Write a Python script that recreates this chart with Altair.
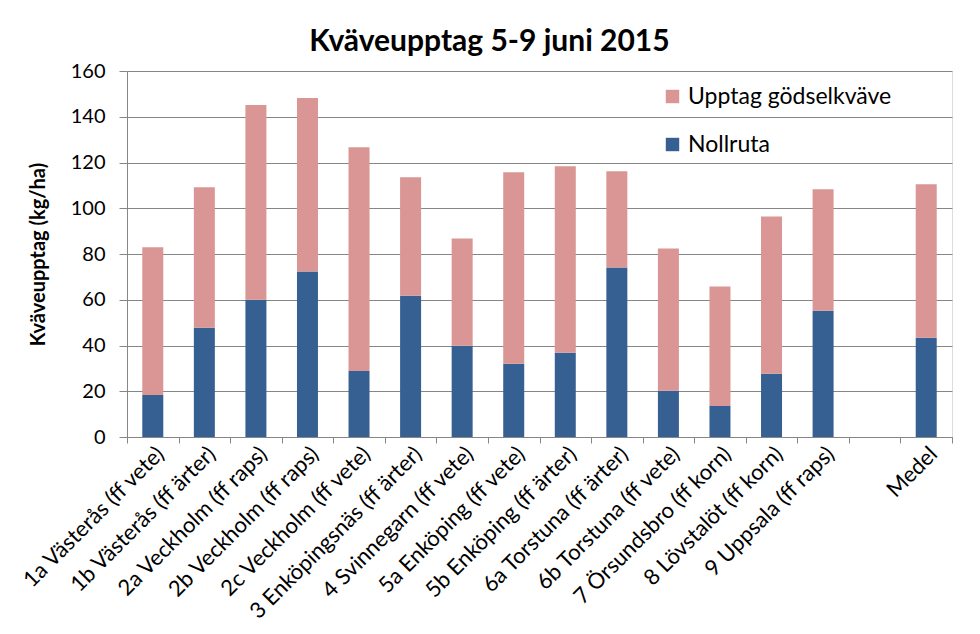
import altair as alt
import pandas as pd

categories = [
    "1a Västerås (ff vete)", "1b Västerås (ff ärter)", "2a Veckholm (ff raps)",
    "2b Veckholm (ff raps)", "2c Veckholm (ff vete)", "3 Enköpingsnäs (ff ärter)",
    "4 Svinnegarn (ff vete)", "5a Enköping (ff vete)", "5b Enköping (ff ärter)",
    "6a Torstuna (ff ärter)", "6b Torstuna (ff vete)", "7 Örsundsbro (ff korn)",
    "8 Lövstalöt (ff korn)", "9 Uppsala (ff raps)", "Medel",
]
axis_order = categories[:14] + [" "] + ["Medel"]
nollruta = [18.4, 47.8, 60.0, 72.3, 28.9, 61.8, 39.9, 32.0, 36.8, 74.1, 20.2, 13.6, 27.6, 55.2, 43.4]
upptag = [64.5, 61.4, 85.1, 75.9, 97.8, 51.7, 46.9, 83.7, 81.6, 42.1, 62.2, 52.2, 68.8, 53.1, 67.1]
series = ["Upptag gödselkväve", "Nollruta"]
colors = ["#D99694", "#376092"]

rows = []
for c, n, u in zip(categories, nollruta, upptag):
    rows.append({"cat": c, "serie": "Nollruta", "val": n, "ord": 0})
    rows.append({"cat": c, "serie": "Upptag gödselkväve", "val": u, "ord": 1})
df = pd.DataFrame(rows)

font = "Lato"
grey = "#868686"

chart = alt.Chart(df).mark_bar(size=21).encode(
    x=alt.X("cat:N", sort=axis_order,
            scale=alt.Scale(domain=axis_order, paddingInner=0, paddingOuter=0),
            axis=alt.Axis(title=None, labelAngle=-45, labelFontSize=22, labelFont=font,
                          labelColor="black", tickBand="extent", tickSize=6,
                          tickColor=grey, domainColor=grey, labelPadding=0,
                          labelLimit=400, grid=False)),
    y=alt.Y("val:Q", stack="zero",
            scale=alt.Scale(domain=[0, 160], nice=False),
            axis=alt.Axis(title="Kväveupptag (kg/ha)", titleFont=font, titleFontSize=20,
                          titleFontWeight="bold", titleColor="black", titlePadding=22,
                          values=list(range(0, 161, 20)), labelFontSize=20, labelFont=font,
                          labelColor="black", tickSize=8, tickColor=grey, domainColor=grey,
                          gridColor=grey, grid=True, labelPadding=14)),
    color=alt.Color("serie:N",
                    scale=alt.Scale(domain=series, range=colors),
                    legend=alt.Legend(title=None, orient="none", legendX=534, legendY=14,
                                      symbolType="square", symbolSize=180,
                                      symbolStrokeWidth=0, labelFontSize=23, labelFont=font,
                                      labelColor="black", rowPadding=24, labelOffset=4,
                                      labelLimit=400)),
    order=alt.Order("ord:Q", sort="ascending"),
).properties(
    width=825, height=366,
    title=alt.TitleParams("Kväveupptag 5-9 juni 2015", font=font, fontSize=30,
                          fontWeight="bold", color="black", anchor="middle", offset=4, dx=-50),
    autosize=alt.AutoSizeParams(type="none"),
    padding={"left": 119, "top": 63, "right": 20, "bottom": 185},
).configure_view(stroke=None).configure(background="white")

chart.save("out.html", embed_options={"renderer": "svg", "actions": False})
